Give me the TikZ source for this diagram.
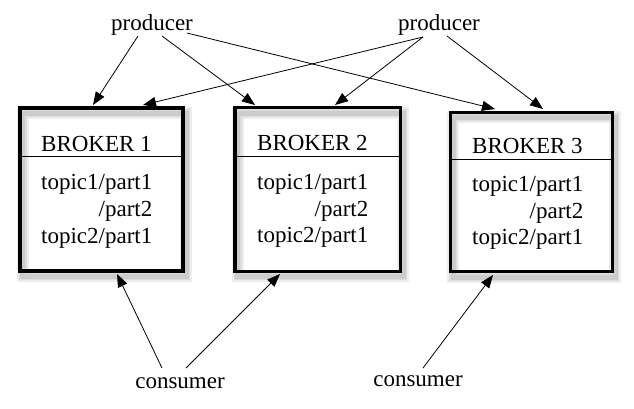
\documentclass[tikz,border=0pt]{standalone}
\usepackage{fontspec}
\setmainfont{Liberation Serif}
\usetikzlibrary{arrows.meta}
\begin{document}
\begin{tikzpicture}[x=1pt,y=-1pt,
  lbl/.style={inner sep=0pt,font=\fontsize{23}{27}\selectfont},
  brokerbox/.style={draw,line width=3.5pt,inner sep=0pt},
  boxshadow/.style={draw=black,opacity=0.07,line width=#1},
  conn/.style={line width=0.8pt,-{Triangle[length=13pt,width=10pt]}}]
\useasboundingbox (0,0) rectangle (634,408);
% soft shadows
\foreach \w in {12pt,8pt,5pt}{
  \draw[boxshadow=\w] (22.5,113) rectangle (186,276);
  \draw[boxshadow=\w] (237.5,113) rectangle (403,276);
  \draw[boxshadow=\w] (453,117) rectangle (615,277);
}
% boxes
\node[brokerbox,minimum width=163pt,minimum height=163pt] (b1) at (101.5,189.5) {};
\node[brokerbox,minimum width=165.5pt,minimum height=163.6pt] (b2) at (317.75,189.5) {};
\node[brokerbox,minimum width=162pt,minimum height=159pt] (b3) at (531.5,192) {};
\draw[line width=0.8pt] (b1.west |- 0,156) -- (b1.east |- 0,156);
\draw[line width=0.8pt] (b2.west |- 0,156) -- (b2.east |- 0,156);
\draw[line width=0.8pt] (b3.west |- 0,159) -- (b3.east |- 0,159);
% box texts
\node[lbl,anchor=base west] (h1) at (41,151) {BROKER 1};
\node[lbl,anchor=base west] (t11) at (41,189) {topic1/part1};
\node[lbl,anchor=base east] (t12) at (t11.east |- 0,216) {/part2};
\node[lbl,anchor=base west] (t13) at (41,243) {topic2/part1};
\node[lbl,anchor=base west] (h2) at (257,150) {BROKER 2};
\node[lbl,anchor=base west] (t21) at (257,189) {topic1/part1};
\node[lbl,anchor=base east] (t22) at (t21.east |- 0,216) {/part2};
\node[lbl,anchor=base west] (t23) at (257,242) {topic2/part1};
\node[lbl,anchor=base west] (h3) at (472,153) {BROKER 3};
\node[lbl,anchor=base west] (t31) at (472,191) {topic1/part1};
\node[lbl,anchor=base east] (t32) at (t31.east |- 0,218) {/part2};
\node[lbl,anchor=base west] (t33) at (472,244) {topic2/part1};
% producers and consumers
\node[lbl,anchor=base] (p1) at (152,30) {producer};
\node[lbl,anchor=base] (p2) at (439,30) {producer};
\node[lbl,anchor=base] (c1) at (180,388) {consumer};
\node[lbl,anchor=base] (c2) at (418,386) {consumer};
% connector ends
\coordinate (p1a) at (138,36);
\coordinate (p1b) at (162,36);
\coordinate (p1c) at (187,33);
\coordinate (p2a) at (423,37);
\coordinate (p2b) at (447,36);
\coordinate (c1a) at (162,368);
\coordinate (c1b) at (186,368);
\coordinate (c2a) at (423,368);
\coordinate (b1n1) at (93,105);
\coordinate (b1n2) at (143,105);
\coordinate (b2n1) at (255,105);
\coordinate (b2n2) at (335,105);
\coordinate (b3n1) at (495,109);
\coordinate (b3n2) at (543,109);
\coordinate (b1s) at (117,274);
\coordinate (b2s) at (280,274);
\coordinate (b3s) at (493,275);
% connectors
\draw[conn] (p1a) -- (b1n1);
\draw[conn] (p1b) -- (b2n1);
\draw[conn] (p1c) -- (b3n1);
\draw[conn] (p2a) -- (b1n2);
\draw[conn] (p2a) -- (b2n2);
\draw[conn] (p2b) -- (b3n2);
\draw[conn] (c1a) -- (b1s);
\draw[conn] (c1b) -- (b2s);
\draw[conn] (c2a) -- (b3s);
\end{tikzpicture}
\end{document}
